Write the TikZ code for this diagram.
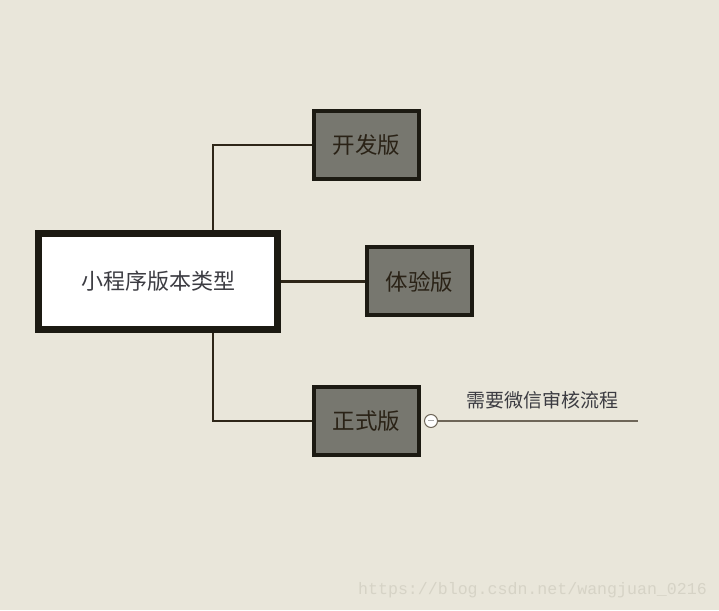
\documentclass[tikz,border=0pt]{standalone}
\usepackage{fontspec}
\newfontfamily\cjk{Noto Sans CJK SC}
\newfontfamily\wmfont{Liberation Mono}
\usetikzlibrary{positioning, calc}
\definecolor{paper}{HTML}{E9E6DA}
\definecolor{slate}{HTML}{77776F}
\definecolor{frame}{HTML}{1C1A12}
\definecolor{wire}{HTML}{2E2618}
\definecolor{inkmain}{HTML}{3C3C42}
\definecolor{inkleaf}{HTML}{2A2216}
\definecolor{tailgray}{HTML}{6E6658}
\definecolor{faint}{HTML}{D6D3C6}
\tikzstyle{rootbox} = [rectangle, minimum width=239pt, minimum height=96pt, text centered, draw=frame, line width=7pt, fill=white, text=inkmain, font=\cjk\fontsize{22pt}{26pt}\selectfont]
\tikzstyle{leaf} = [rectangle, minimum width=105pt, minimum height=68pt, text centered, draw=frame, line width=4pt, fill=slate, text=inkleaf, font=\cjk\fontsize{22.5pt}{26pt}\selectfont]
\tikzstyle{link} = [wire, line width=2.8pt]
\tikzstyle{knobstyle} = [circle, draw=tailgray, fill=white, line width=1pt, minimum size=13pt, inner sep=0pt,
  path picture={\draw[gray!70, line width=1pt] ($(path picture bounding box.center)+(-3pt,0)$) -- ($(path picture bounding box.center)+(3pt,0)$);}]
\tikzstyle{tail} = [tailgray, line width=1.3pt]

\begin{document}
\begin{tikzpicture}[node distance=31pt]

\useasboundingbox[fill=paper] (0,0) rectangle (719pt,610pt);

% Nodes
\node (root) [rootbox] at (158pt,328.5pt) {小程序版本类型};
\node (dev) [leaf, above right=49pt and 31pt of root.north east, anchor=south west] {开发版};
\node (trial) [leaf, right=84pt of root] {体验版};
\node (release) [leaf, below right=52pt and 31pt of root.south east, anchor=north west] {正式版};

\node (knob) [knobstyle, right=3pt of release] {};
\coordinate [right=200pt of knob.east] (tailend);

% Arrows
\draw [link] (dev.west) -| ($(root.north)+(55pt,0)$);
\draw [link] (trial.west -| root.east) -- (trial.west);
\draw [link] (release.west) -| ($(root.south)+(55pt,0)$);

\draw [tail] (knob.east) -- (tailend)
  node [pos=0.52, above=8pt, text=inkmain, font=\cjk\fontsize{19pt}{22pt}\selectfont] (note) {需要微信审核流程};

\node (mark) [text=faint, font=\wmfont\fontsize{16.6pt}{19pt}\selectfont] at (532.5pt,20pt) {https://blog.csdn.net/wangjuan\_0216};

\end{tikzpicture}
\end{document}
